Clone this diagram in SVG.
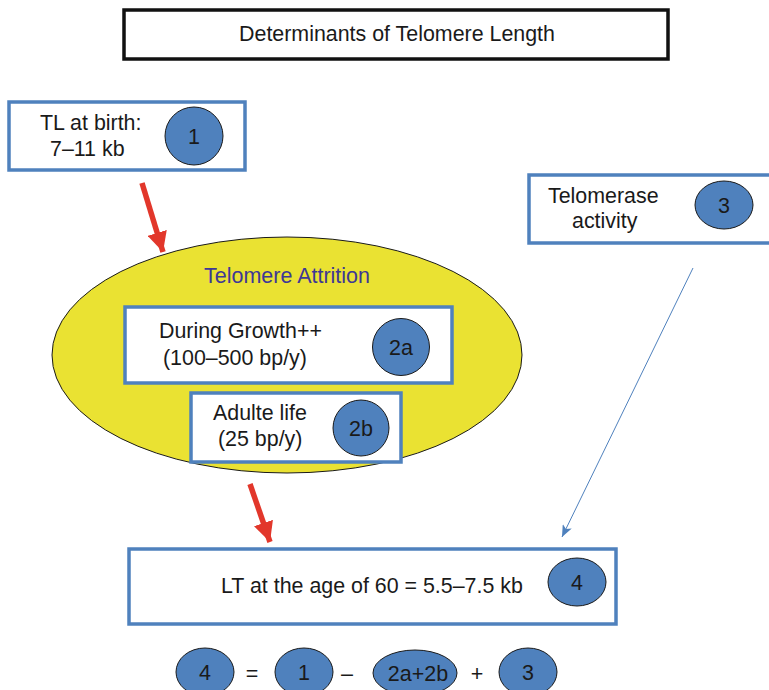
<svg xmlns="http://www.w3.org/2000/svg" width="769" height="690" viewBox="0 0 769 690">
<style>
text{font-family:"Liberation Sans",Arial,sans-serif;fill:#1a1a1a;font-size:21.4px}
.box{fill:#fff;stroke:#4F81BD;stroke-width:3.5}
.dot{fill:#4F81BD;stroke:#1a1a1a;stroke-width:1}
.c{text-anchor:middle;font-size:21.5px}
.red{stroke:#E2372B;stroke-width:5.5;fill:none}
</style>
<defs>
<marker id="rh" viewBox="0 0 20 20" refX="20" refY="10" markerWidth="20" markerHeight="20" markerUnits="userSpaceOnUse" orient="auto">
<path d="M0,0 L20,10 L0,20 Z" fill="#E2372B"/>
</marker>
<marker id="bh" viewBox="0 0 12 10" refX="12" refY="5" markerWidth="12" markerHeight="10" markerUnits="userSpaceOnUse" orient="auto">
<path d="M0,0 L12,5 L0,10 L3,5 Z" fill="#4F81BD"/>
</marker>
</defs>
<rect width="769" height="690" fill="#fff"/>
<g id="title">
<rect x="124" y="10" width="544" height="49" fill="#fff" stroke="#111" stroke-width="3.5"/>
<text x="397" y="41" text-anchor="middle">Determinants of Telomere Length</text>
</g>
<g id="birth">
<rect class="box" x="9" y="102" width="236" height="68"/>
<text x="40" y="130">TL at birth:</text>
<text x="50" y="156">7–11 kb</text>
<circle class="dot" cx="194" cy="136" r="29"/>
<text class="c" x="194" y="144">1</text>
</g>
<g id="telomerase">
<rect class="box" x="529" y="175" width="250" height="68"/>
<text x="548" y="203">Telomerase</text>
<text x="572" y="228">activity</text>
<ellipse class="dot" cx="724" cy="205" rx="29" ry="24"/>
<text class="c" x="724" y="213">3</text>
</g>
<g id="attrition">
<ellipse cx="287" cy="355" rx="235" ry="118" fill="#EAE232" stroke="#1a1a1a" stroke-width="1"/>
<text x="287" y="283" text-anchor="middle" style="fill:#3E3895;font-size:21.5px">Telomere Attrition</text>
</g>
<g id="growth">
<rect class="box" x="125" y="307" width="327" height="76"/>
<text x="159" y="338">During Growth++</text>
<text x="163" y="365">(100–500 bp/y)</text>
<circle class="dot" cx="401" cy="347" r="28.5"/>
<text class="c" x="401" y="355">2a</text>
</g>
<g id="adult">
<rect class="box" x="191" y="393" width="210" height="69"/>
<text x="213" y="420">Adulte life</text>
<text x="218" y="446">(25 bp/y)</text>
<circle class="dot" cx="361" cy="428" r="28"/>
<text class="c" x="361" y="436">2b</text>
</g>
<g id="result">
<rect class="box" x="129" y="549" width="487" height="75"/>
<text x="221" y="593">LT at the age of 60 = 5.5–7.5 kb</text>
<ellipse class="dot" cx="577" cy="582" rx="29" ry="24"/>
<text class="c" x="577" y="590">4</text>
</g>
<g id="equation">
<ellipse class="dot" cx="205" cy="672" rx="29" ry="24"/>
<text class="c" x="205" y="680">4</text>
<text class="c" x="252" y="681">=</text>
<ellipse class="dot" cx="304" cy="672" rx="29" ry="24"/>
<text class="c" x="304" y="680">1</text>
<text class="c" x="347" y="681">–</text>
<ellipse class="dot" cx="415" cy="673" rx="42" ry="23"/>
<text class="c" x="418" y="681">2a+2b</text>
<text class="c" x="477" y="681">+</text>
<ellipse class="dot" cx="528" cy="672" rx="29" ry="24"/>
<text class="c" x="528" y="680">3</text>
</g>
<g id="connectors">
<line class="red" x1="142" y1="183" x2="163" y2="252" marker-end="url(#rh)"/>
<line class="red" x1="250" y1="484" x2="270" y2="542" marker-end="url(#rh)"/>
<line x1="693" y1="268" x2="562" y2="537" stroke="#4F81BD" stroke-width="1" marker-end="url(#bh)"/>
</g>
</svg>
